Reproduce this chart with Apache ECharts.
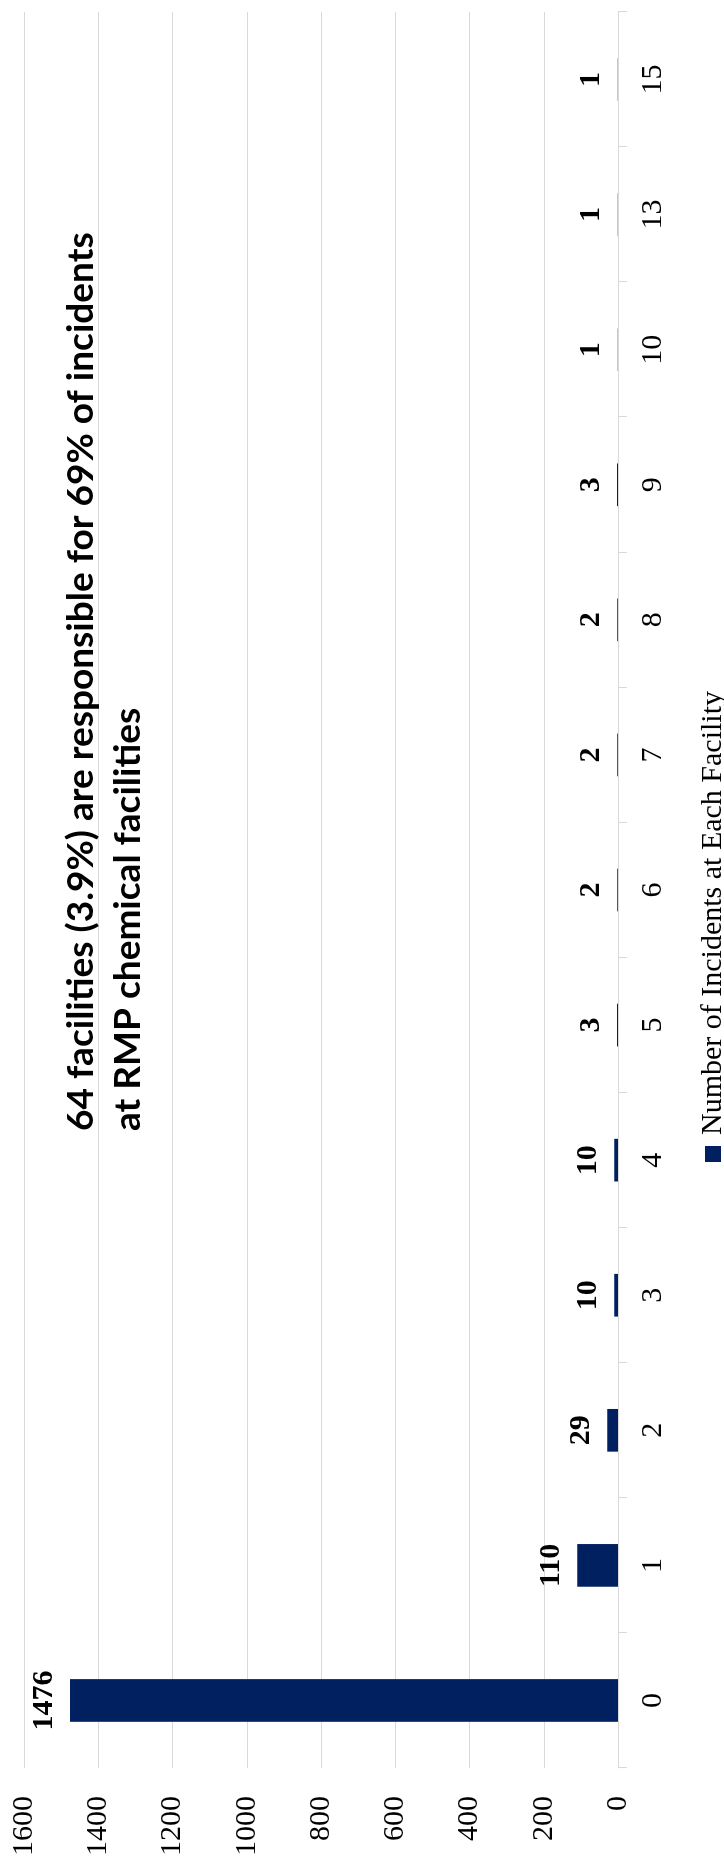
<!DOCTYPE html>
<html><head><meta charset="utf-8">
<script src="https://cdn.jsdelivr.net/npm/echarts@6/dist/echarts.min.js"></script>
<style>
html,body{margin:0;padding:0;width:724px;height:1866px;overflow:hidden;background:#fff;}
#chart{position:absolute;left:0;top:0;width:1866px;height:724px;transform-origin:0 0;transform:translate(0,1866px) rotate(-90deg);}
</style></head><body><div id="chart"></div>
<script>
const categories = ['0','1','2','3','4','5','6','7','8','9','10','13','15'];
const facilityCounts = [1476, 110, 29, 10, 10, 3, 2, 2, 2, 3, 1, 1, 1];
const seriesName = 'Number of Incidents at Each Facility';
const titleLines = ['64 facilities (3.9%) are responsible for 69% of incidents', 'at RMP chemical facilities'];

const serif = 'Liberation Serif';
const chart = echarts.init(document.getElementById('chart'), null, {renderer: 'canvas'});
chart.setOption({
  animation: false,
  backgroundColor: '#fff',
  title: {
    text: titleLines.join('\n'),
    left: 730, top: 53,
    textStyle: {fontFamily: 'Lato', fontWeight: 'bold', fontSize: 37, lineHeight: 47, color: '#000'}
  },
  legend: {
    data: [seriesName],
    left: 699, top: 693,
    icon: 'rect', itemWidth: 16, itemHeight: 16,
    textStyle: {fontFamily: serif, fontSize: 30, color: '#000', padding: [0, 0, 0, 6]}
  },
  grid: {left: 98, right: 12, top: 24, bottom: 106, containLabel: false, outerBoundsMode: 'none'},
  xAxis: {
    type: 'category', data: categories,
    axisLine: {lineStyle: {color: '#d9d9d9', width: 1}},
    axisTick: {show: true, length: 9, lineStyle: {color: '#d9d9d9'}},
    axisLabel: {interval: 0, fontFamily: serif, fontSize: 30, color: '#000', margin: 20}
  },
  yAxis: {
    type: 'value', min: 0, max: 1600, interval: 200,
    axisLine: {show: false}, axisTick: {show: false},
    splitLine: {lineStyle: {color: '#d9d9d9', width: 1}},
    axisLabel: {fontFamily: serif, fontSize: 30, color: '#000', margin: 28, formatter: function (v) { return String(v); }}
  },
  series: [{
    type: 'bar', name: seriesName, data: facilityCounts,
    barCategoryGap: '68.4%',
    itemStyle: {color: '#002060'},
    label: {show: true, position: 'top', distance: 11, fontFamily: serif, fontWeight: 'bold', fontSize: 30, color: '#000'}
  }]
});
</script></body></html>
